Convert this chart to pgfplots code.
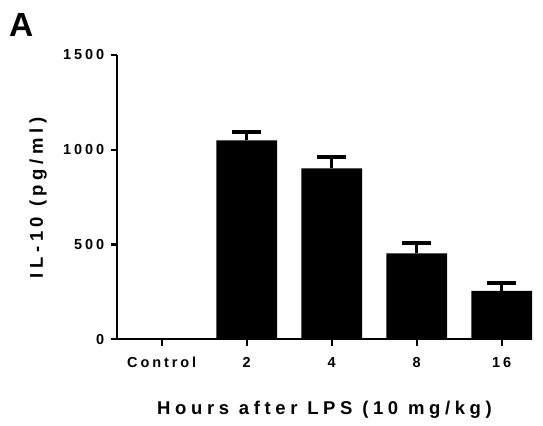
\documentclass[border=0pt]{standalone}
\usepackage{fontspec}
\setmainfont{Liberation Sans}
\newfontfamily\spacedfont{Liberation Sans}[LetterSpace=20]
\newfontfamily\labelfont{Liberation Sans}[LetterSpace=25]
\usepackage{pgfplots}
\pgfplotsset{compat=1.18}
\begin{document}
\begin{tikzpicture}
\useasboundingbox (0,0) rectangle (543bp,426bp);
\begin{axis}[
  at={(117bp,86.7bp)}, anchor=south west,
  scale only axis, width=415bp, height=284.3bp,
  xmin=-0.526, xmax=4.357, ymin=0, ymax=1500,
  axis x line*=bottom, axis y line*=left,
  axis line style={line width=2.3bp, black},
  xtick={0,1,2,3,4}, xticklabels={Control,2,4,8,16},
  ytick={0,500,1000,1500},
  tick align=outside, major tick length=6.3bp,
  tick style={line width=2.3bp, black},
  /pgf/number format/assume math mode=true,
  /pgf/number format/1000 sep={},
  ticklabel style={font=\spacedfont\bfseries\fontsize{14.5bp}{17bp}\selectfont},
  xticklabel style={yshift=-8bp},
  yticklabel style={xshift=-3bp},
  xlabel={Hours after LPS (10 mg/kg)},
  ylabel={IL-10 (pg/ml)},
  label style={font=\labelfont\bfseries\fontsize{18.5bp}{21bp}\selectfont},
  xlabel style={at={(axis description cs:0.5,-0.247)}, anchor=center},
  ylabel style={at={(axis description cs:-0.19,0.497)}, anchor=center},
  clip=false,
]
\addplot[ybar, bar width=0.714, bar shift=0pt, fill=black, draw=none] coordinates {(0,0)};
\addplot[ybar, bar width=0.714, bar shift=0pt, fill=black, draw=none,
  error bars/.cd, y dir=plus, y explicit,
  error bar style={line width=3.3bp, black},
  error mark options={line width=4bp, mark size=14.3bp, black, rotate=90}]
  coordinates {(1,1050) +- (0,43) (2,902) +- (0,58) (3,454) +- (0,56) (4,255) +- (0,40)};
\end{axis}
\node[anchor=base west, inner sep=0pt, font=\bfseries\fontsize{33.5bp}{40bp}\selectfont] at (9bp,389.3bp) {A};
\end{tikzpicture}
\end{document}
